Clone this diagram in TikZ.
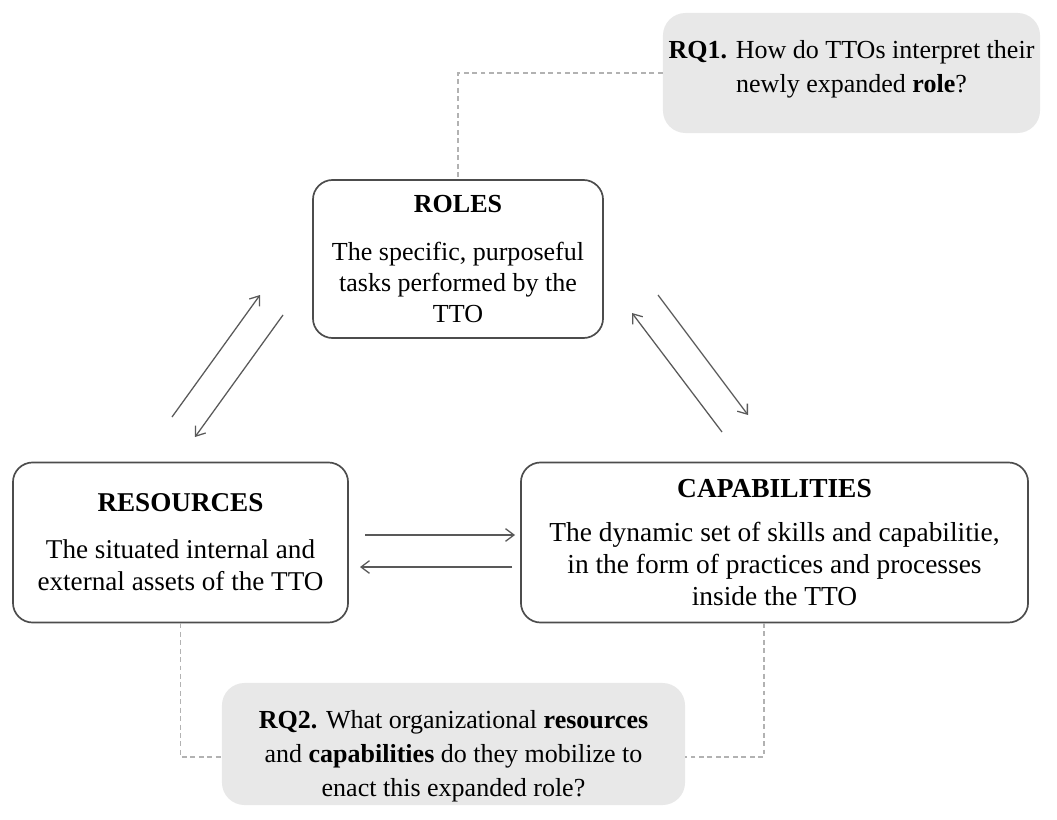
\documentclass[tikz,border=0pt]{standalone}
\usepackage{fontspec}
\setmainfont{Liberation Serif}
\usetikzlibrary{arrows.meta}

\tikzset{
  topic/.style={draw=black!70, line width=1.2pt, rounded corners=14pt, align=center,
    font=\fontsize{18.5}{22}\selectfont},
  question/.style={fill=black!9, rounded corners=16pt},
  qtext/.style={align=center, font=\fontsize{18.5}{24}\selectfont},
  link/.style={draw=black!30, line width=0.9pt, dash pattern=on 3.5pt off 2.5pt},
  arr/.style={draw=black!65, line width=0.9pt, ->},
}

\begin{document}
\begin{tikzpicture}[x=0.025cm, y=-0.025cm, >={Straight Barb[length=6pt,width=9pt]}]
\useasboundingbox (0,0) rectangle (1057,820);

% research questions
\node[question, minimum width=9.425cm, minimum height=3cm] (rq1) at (851.5,73) {};
\node[qtext] (rq1text) at (851.5,69) {\textbf{RQ1.} How do TTOs interpret their\\ newly expanded \textbf{role}?};
\node[question, minimum width=11.575cm, minimum height=3.05cm] (rq2) at (453.5,744) {};
\node[qtext] (rq2text) at (453.5,756) {\textbf{RQ2.} What organizational \textbf{resources}\\
  and \textbf{capabilities} do they mobilize to\\ enact this expanded role?};

% the three boxes
\node[topic, minimum width=7.25cm, minimum height=3.95cm] (roles) at (458,259)
  {\textbf{ROLES}\\[12pt]The specific, purposeful\\ tasks performed by the\\ TTO};
\node[topic, font=\fontsize{19.3}{23}\selectfont, minimum width=8.375cm, minimum height=4cm]
  (resources) at (180.5,542.5)
  {\textbf{RESOURCES}\\[10pt]The situated internal and\\ external assets of the TTO};
\node[topic, font=\fontsize{19.5}{22.5}\selectfont, minimum width=12.675cm, minimum height=4cm]
  (capabilities) at (774.5,542.5)
  {\textbf{CAPABILITIES}\\[9pt]The dynamic set of skills and capabilitie,\\
   in the form of practices and processes\\ inside the TTO};

% dashed links
\coordinate (capfoot) at (764,623);
\draw[link] (rq1.west) -| (roles.north);
\draw[link] (resources.south) |- ([yshift=-9.2pt]rq2.west);
\draw[link] (capfoot) |- ([yshift=-9.2pt]rq2.east);

% arrow ends
\coordinate (lu1) at (172,417);  \coordinate (lu2) at (260,295);
\coordinate (ld1) at (283,315);  \coordinate (ld2) at (195,437);
\coordinate (rd1) at (658,295);  \coordinate (rd2) at (748,415);
\coordinate (ru1) at (722,432);  \coordinate (ru2) at (632,313);
\coordinate (hr1) at (365,535);  \coordinate (hr2) at (515,535);
\coordinate (hl1) at (512,567);  \coordinate (hl2) at (360,567);

\foreach \a/\b in {lu1/lu2, ld1/ld2, rd1/rd2, ru1/ru2, hr1/hr2, hl1/hl2}
{
    \draw[arr] (\a) -- (\b);
}

\end{tikzpicture}
\end{document}
